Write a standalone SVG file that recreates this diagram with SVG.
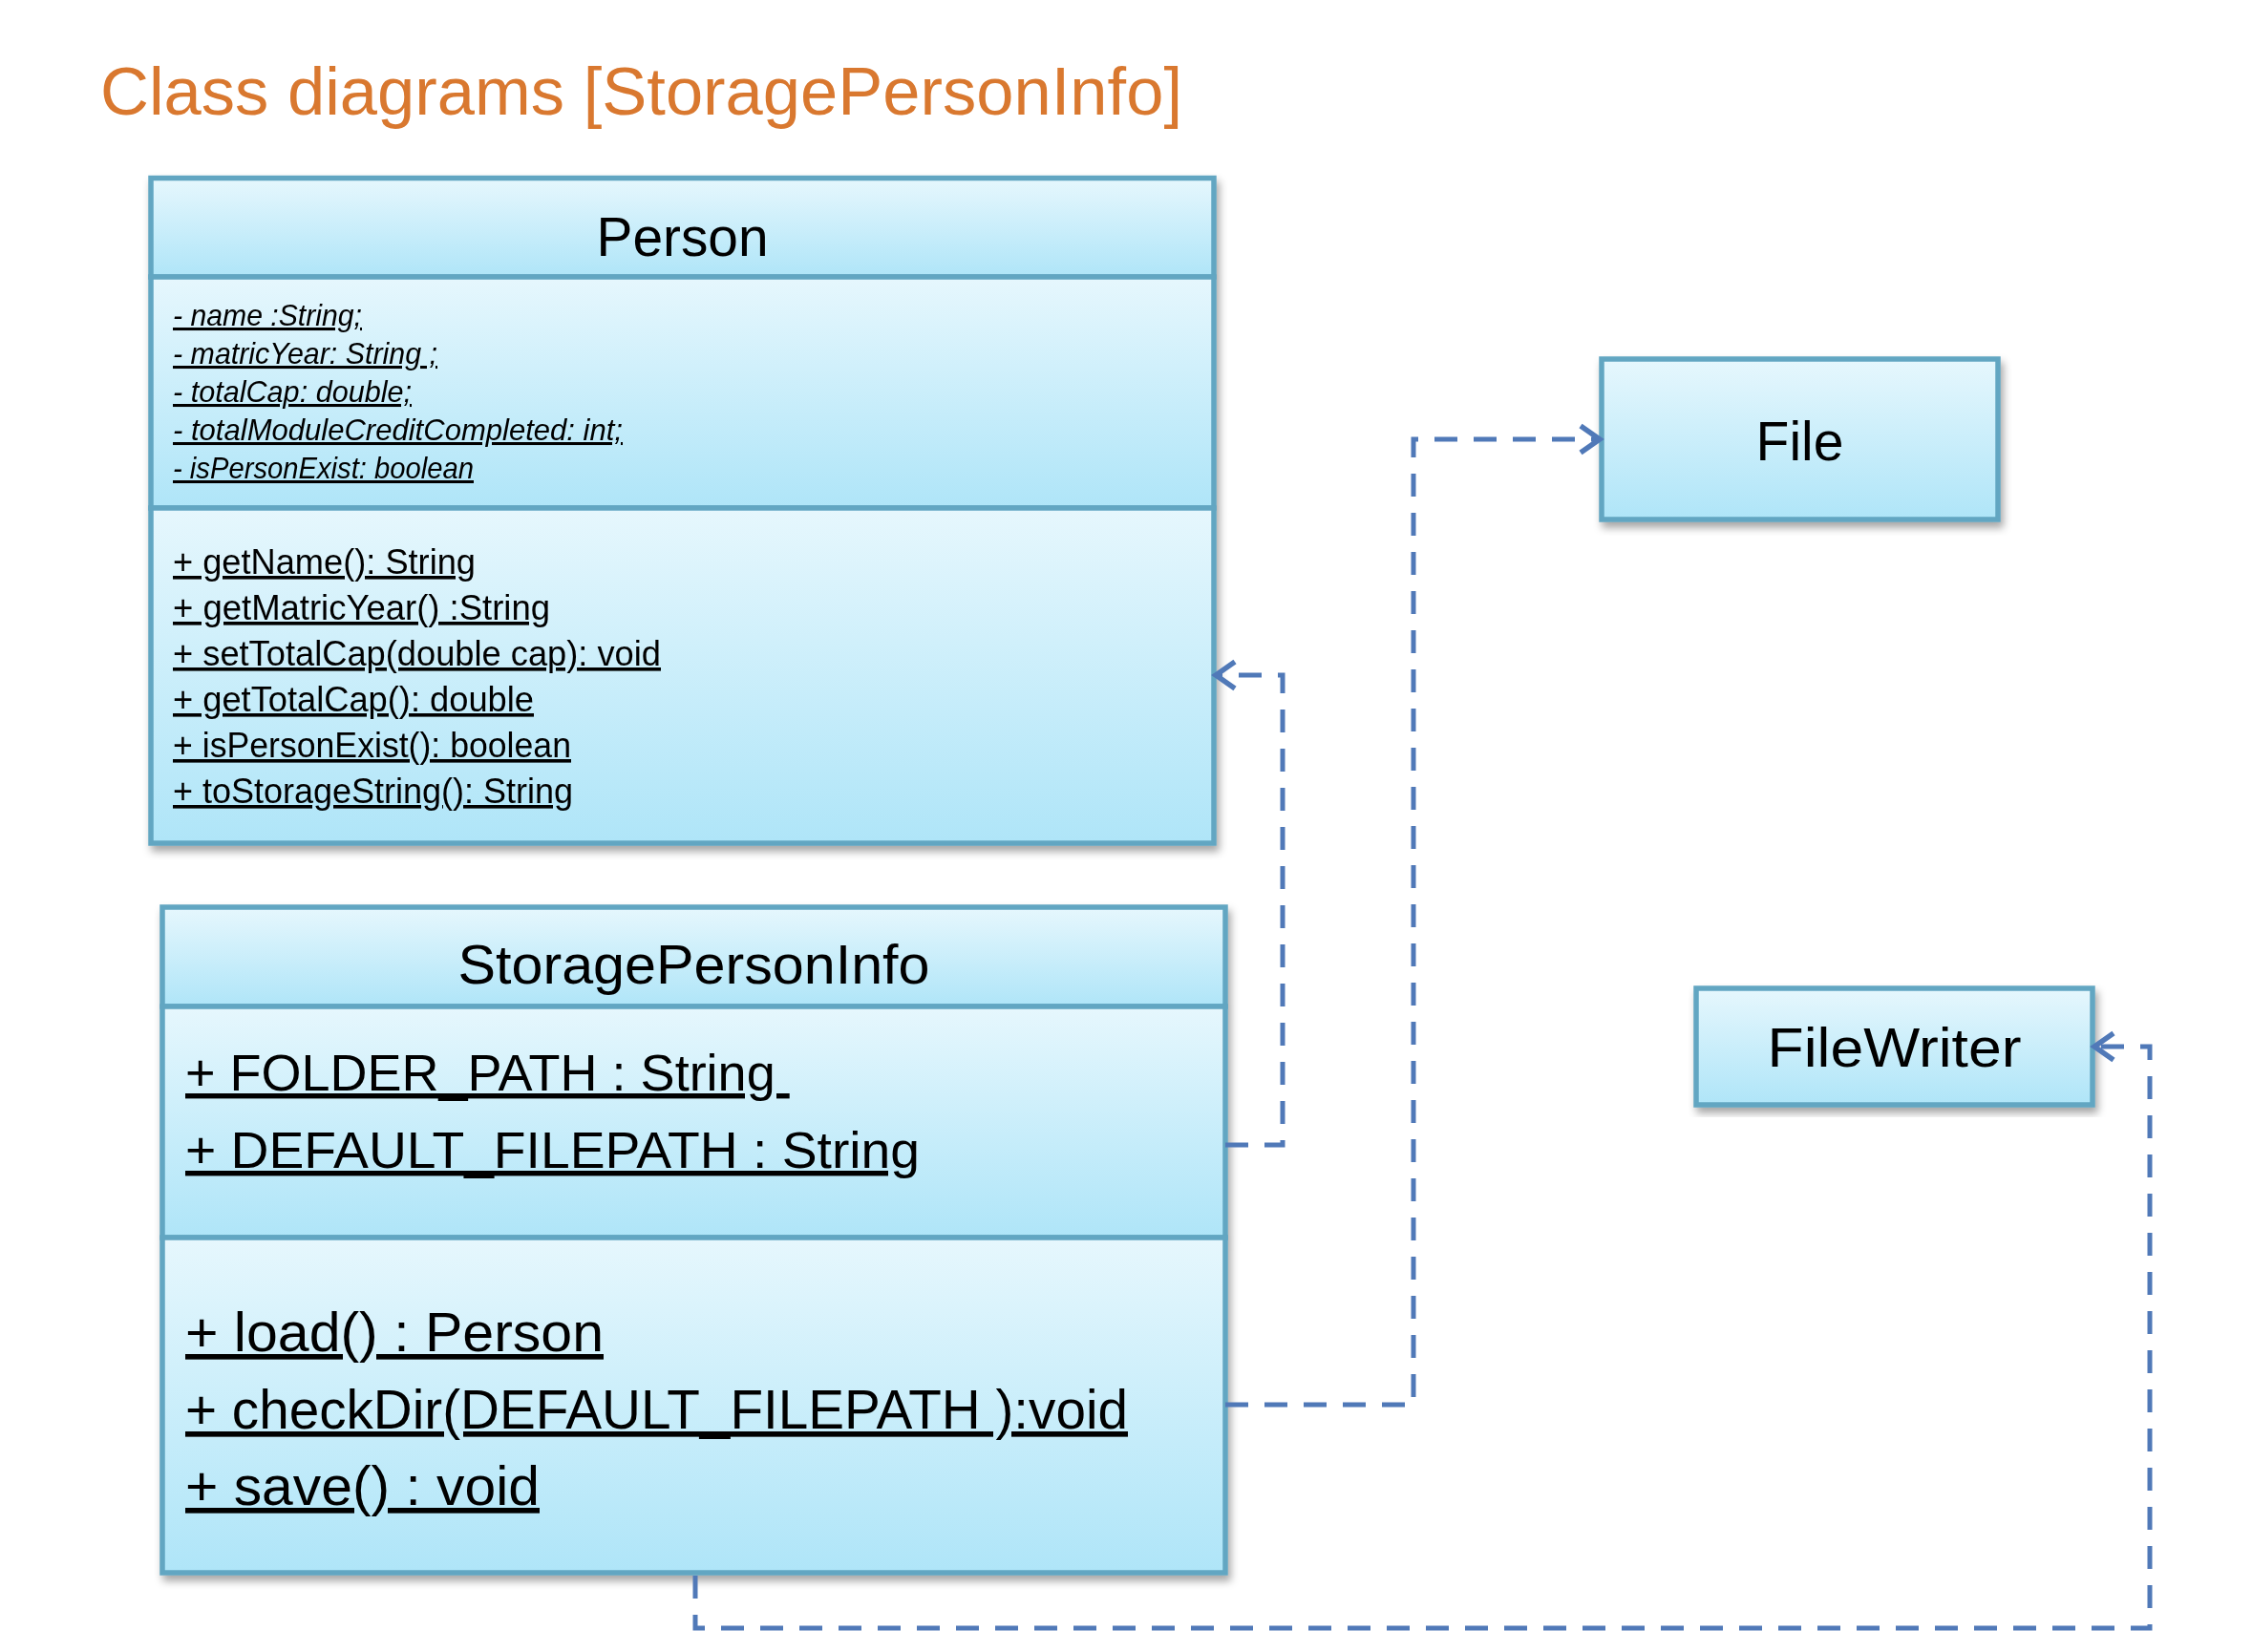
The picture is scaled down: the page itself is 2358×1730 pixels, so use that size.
<svg xmlns="http://www.w3.org/2000/svg" width="2358" height="1730" viewBox="0 0 2358 1730">
<defs>
<linearGradient id="boxg" x1="0" y1="0" x2="0" y2="1">
<stop offset="0" stop-color="#E6F7FD"/>
<stop offset="1" stop-color="#AFE5F8"/>
</linearGradient>
<filter id="shadow" x="-5%" y="-5%" width="110%" height="115%">
<feDropShadow dx="3" dy="6" stdDeviation="4" flood-color="#000" flood-opacity="0.35"/>
</filter>
<marker id="arrow" markerUnits="userSpaceOnUse" markerWidth="40" markerHeight="40" viewBox="-24 -20 30 40" refX="0" refY="0" orient="auto">
<path d="M-20,-14 L0,0 L-20,14" fill="none" stroke="#5079B8" stroke-width="5.5" stroke-linejoin="miter"/>
</marker>
</defs>
<style>
.box{fill:url(#boxg);stroke:#62A6C2;stroke-width:5.5}
.t{font-family:"Liberation Sans",Arial,sans-serif;fill:#000}
.cls{font-size:57px;text-anchor:middle}
.attr{font-size:30.5px;font-style:italic;text-decoration:underline}
.meth{font-size:36px;text-decoration:underline}
.big{font-size:54px;text-decoration:underline;white-space:pre}
.bigm{font-size:56.5px;text-decoration:underline}
.conn{fill:none;stroke:#5079B8;stroke-width:5;stroke-dasharray:24 17}
</style>
<rect width="2358" height="1730" fill="#FFFFFF"/>
<text x="105" y="120" font-family="'Liberation Sans',Arial,sans-serif" font-size="71" fill="#D9782F" textLength="1133" lengthAdjust="spacingAndGlyphs">Class diagrams [StoragePersonInfo]</text>

<g id="node-person" filter="url(#shadow)">
<rect class="box" x="158" y="186.5" width="1113" height="103.5"/>
<rect class="box" x="158" y="290" width="1113" height="242"/>
<rect class="box" x="158" y="532" width="1113" height="351"/>
<text class="t cls" x="714.5" y="268" textLength="180" lengthAdjust="spacingAndGlyphs">Person</text>
<text class="t attr" x="181" y="341" textLength="198" lengthAdjust="spacingAndGlyphs">- name :String;</text>
<text class="t attr" x="181" y="381" textLength="277" lengthAdjust="spacingAndGlyphs">- matricYear: String ;</text>
<text class="t attr" x="181" y="421" textLength="250" lengthAdjust="spacingAndGlyphs">- totalCap: double;</text>
<text class="t attr" x="181" y="461" textLength="471" lengthAdjust="spacingAndGlyphs">- totalModuleCreditCompleted: int;</text>
<text class="t attr" x="181" y="501" textLength="315" lengthAdjust="spacingAndGlyphs">- isPersonExist: boolean</text>
<text class="t meth" x="181" y="601" textLength="317" lengthAdjust="spacingAndGlyphs">+ getName(): String</text>
<text class="t meth" x="181" y="649" textLength="395" lengthAdjust="spacingAndGlyphs">+ getMatricYear() :String</text>
<text class="t meth" x="181" y="697" textLength="511" lengthAdjust="spacingAndGlyphs">+ setTotalCap(double cap): void</text>
<text class="t meth" x="181" y="745" textLength="378" lengthAdjust="spacingAndGlyphs">+ getTotalCap(): double</text>
<text class="t meth" x="181" y="793" textLength="417" lengthAdjust="spacingAndGlyphs">+ isPersonExist(): boolean</text>
<text class="t meth" x="181" y="841" textLength="419" lengthAdjust="spacingAndGlyphs">+ toStorageString(): String</text>
</g>

<g id="node-storage" filter="url(#shadow)">
<rect class="box" x="170" y="950" width="1113" height="104"/>
<rect class="box" x="170" y="1054" width="1113" height="242"/>
<rect class="box" x="170" y="1296" width="1113" height="351"/>
<text class="t cls" x="726.5" y="1030" textLength="494" lengthAdjust="spacingAndGlyphs">StoragePersonInfo</text>
<text class="t big" x="194" y="1142">+ FOLDER_PATH : String </text>
<text class="t big" x="194" y="1223" textLength="769" lengthAdjust="spacingAndGlyphs">+ DEFAULT_FILEPATH : String</text>
<text class="t bigm" x="194" y="1415" textLength="438" lengthAdjust="spacingAndGlyphs">+ load() : Person</text>
<text class="t bigm" x="194" y="1496" textLength="987" lengthAdjust="spacingAndGlyphs">+ checkDir(DEFAULT_FILEPATH ):void</text>
<text class="t bigm" x="194" y="1576" textLength="371" lengthAdjust="spacingAndGlyphs">+ save() : void</text>
</g>

<g id="node-file" filter="url(#shadow)">
<rect class="box" x="1677" y="376" width="415" height="168"/>
<text class="t cls" x="1884.5" y="482">File</text>
</g>

<g id="node-filewriter" filter="url(#shadow)">
<rect class="box" x="1776" y="1035" width="415" height="122"/>
<text class="t cls" x="1983.5" y="1117" textLength="266" lengthAdjust="spacingAndGlyphs">FileWriter</text>
</g>

<g id="connectors">
<path class="conn" d="M1283,1199 H1343 V707 H1273" marker-end="url(#arrow)"/>
<path class="conn" d="M1283,1471 H1480 V460 H1675" marker-end="url(#arrow)"/>
<path class="conn" d="M728,1650 V1705 H2251 V1096 H2193" marker-end="url(#arrow)"/>
</g>
</svg>
